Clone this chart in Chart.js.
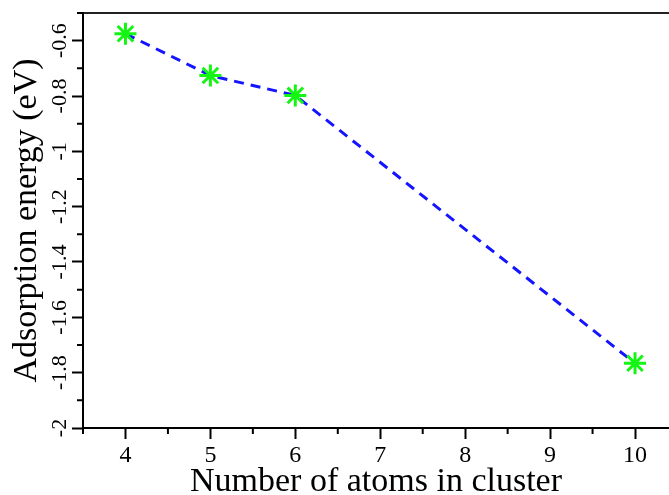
<!DOCTYPE html>
<html>
<head>
<meta charset="utf-8">
<script src="https://cdn.jsdelivr.net/npm/chart.js@4"></script>
<style>
  html, body { margin: 0; padding: 0; background: #fff; overflow: hidden; }
  #wrap { width: 669px; height: 495px; }
</style>
</head>
<body>
<div id="wrap"><canvas id="energyChart" width="669" height="495"></canvas></div>
<script>
// cluster size vs adsorption energy (eV)
const atomCounts = [4, 5, 6, 10];
const adsorptionEnergy = [-0.575, -0.726, -0.798, -1.766];

// axis ranges
const xRange = [3.5, 10.4];
const yRange = [-2, -0.5];
const xTitle = 'Number of atoms in cluster';
const yTitle = 'Adsorption energy (eV)';

const serif = 'Liberation Serif';

function isMajorX(v) {
    return Math.abs(v - Math.round(v)) < 1e-6;
}
function isMajorY(v) {
    return Math.round(v * 10) % 2 === 0;
}

// short minor tick marks (half steps on x, 0.1 on y)
const minorTicks = {
    id: 'minorTicks',
    afterDraw(chart) {
        const ctx = chart.ctx;
        const xs = chart.scales.x;
        const ys = chart.scales.y;
        ctx.save();
        ctx.strokeStyle = '#000';
        ctx.lineWidth = 2;
        ctx.beginPath();
        xs.ticks.forEach(t => {
            if (!isMajorX(t.value)) {
                const px = xs.getPixelForValue(t.value);
                ctx.moveTo(px, xs.top);
                ctx.lineTo(px, xs.top + 6);
            }
        });
        ys.ticks.forEach(t => {
            if (!isMajorY(t.value)) {
                const py = ys.getPixelForValue(t.value);
                ctx.moveTo(ys.right, py);
                ctx.lineTo(ys.right - 6, py);
            }
        });
        ctx.stroke();
        ctx.restore();
    }
};

const points = atomCounts.map((n, i) => ({ x: n, y: adsorptionEnergy[i] }));

new Chart(document.getElementById('energyChart'), {
    type: 'line',
    data: {
        datasets: [{
            data: points,
            borderColor: '#1414ff',
            borderWidth: 3,
            borderDash: [10, 7],
            tension: 0,
            pointStyle: 'star',
            pointRadius: 11,
            pointBorderWidth: 3,
            pointBorderColor: '#14f514',
            pointBackgroundColor: '#14f514',
            clip: false
        }]
    },
    options: {
        responsive: false,
        devicePixelRatio: 1,
        animation: false,
        layout: {
            autoPadding: false,
            padding: { left: 0, top: 13, right: 0, bottom: 0 }
        },
        plugins: {
            legend: { display: false },
            tooltip: { enabled: false }
        },
        scales: {
            x: {
                type: 'linear',
                position: 'bottom',
                min: xRange[0],
                max: xRange[1],
                afterFit: s => {
                    s.height = 67;
                    s.paddingLeft = 0;
                    s.paddingRight = 0;
                },
                grid: {
                    display: true,
                    drawOnChartArea: false,
                    tickLength: 11,
                    tickWidth: 2,
                    tickColor: c => (c.tick && isMajorX(c.tick.value)) ? '#000' : 'rgba(0,0,0,0)'
                },
                border: { display: true, color: '#000', width: 2 },
                ticks: {
                    stepSize: 0.5,
                    includeBounds: false,
                    autoSkip: false,
                    maxRotation: 0,
                    padding: 2,
                    color: '#000',
                    font: { family: serif, size: 24 },
                    callback: v => isMajorX(v) ? String(Math.round(v)) : ''
                },
                title: {
                    display: true,
                    text: xTitle,
                    color: '#000',
                    font: { family: serif, size: 34, lineHeight: 0.75 },
                    padding: { top: 0, bottom: 0 }
                }
            },
            xTop: {
                type: 'linear',
                axis: 'x',
                position: 'top',
                min: xRange[0],
                max: xRange[1],
                afterFit: s => {
                    s.height = 0;
                    s.paddingLeft = 0;
                    s.paddingRight = 0;
                },
                grid: { display: false },
                ticks: { display: false },
                border: { display: true, color: '#222', width: 2 }
            },
            y: {
                type: 'linear',
                position: 'left',
                min: yRange[0],
                max: yRange[1],
                afterFit: s => {
                    s.width = 83;
                    s.paddingTop = 0;
                    s.paddingBottom = 0;
                },
                grid: {
                    display: true,
                    drawOnChartArea: false,
                    tickLength: 11,
                    tickWidth: 2,
                    tickColor: c => (c.tick && isMajorY(c.tick.value)) ? '#000' : 'rgba(0,0,0,0)'
                },
                border: { display: true, color: '#000', width: 2 },
                ticks: {
                    stepSize: 0.1,
                    autoSkip: false,
                    minRotation: 90,
                    maxRotation: 90,
                    crossAlign: 'center',
                    padding: -6,
                    color: '#000',
                    font: { family: serif, size: 22 },
                    callback: v => isMajorY(v) ? String(Math.round(v * 10) / 10) : ''
                },
                title: {
                    display: true,
                    text: yTitle,
                    color: '#000',
                    font: { family: serif, size: 34, lineHeight: 1 },
                    padding: { top: 10, bottom: 0 }
                }
            }
        }
    },
    plugins: [minorTicks]
});
</script>
</body>
</html>
